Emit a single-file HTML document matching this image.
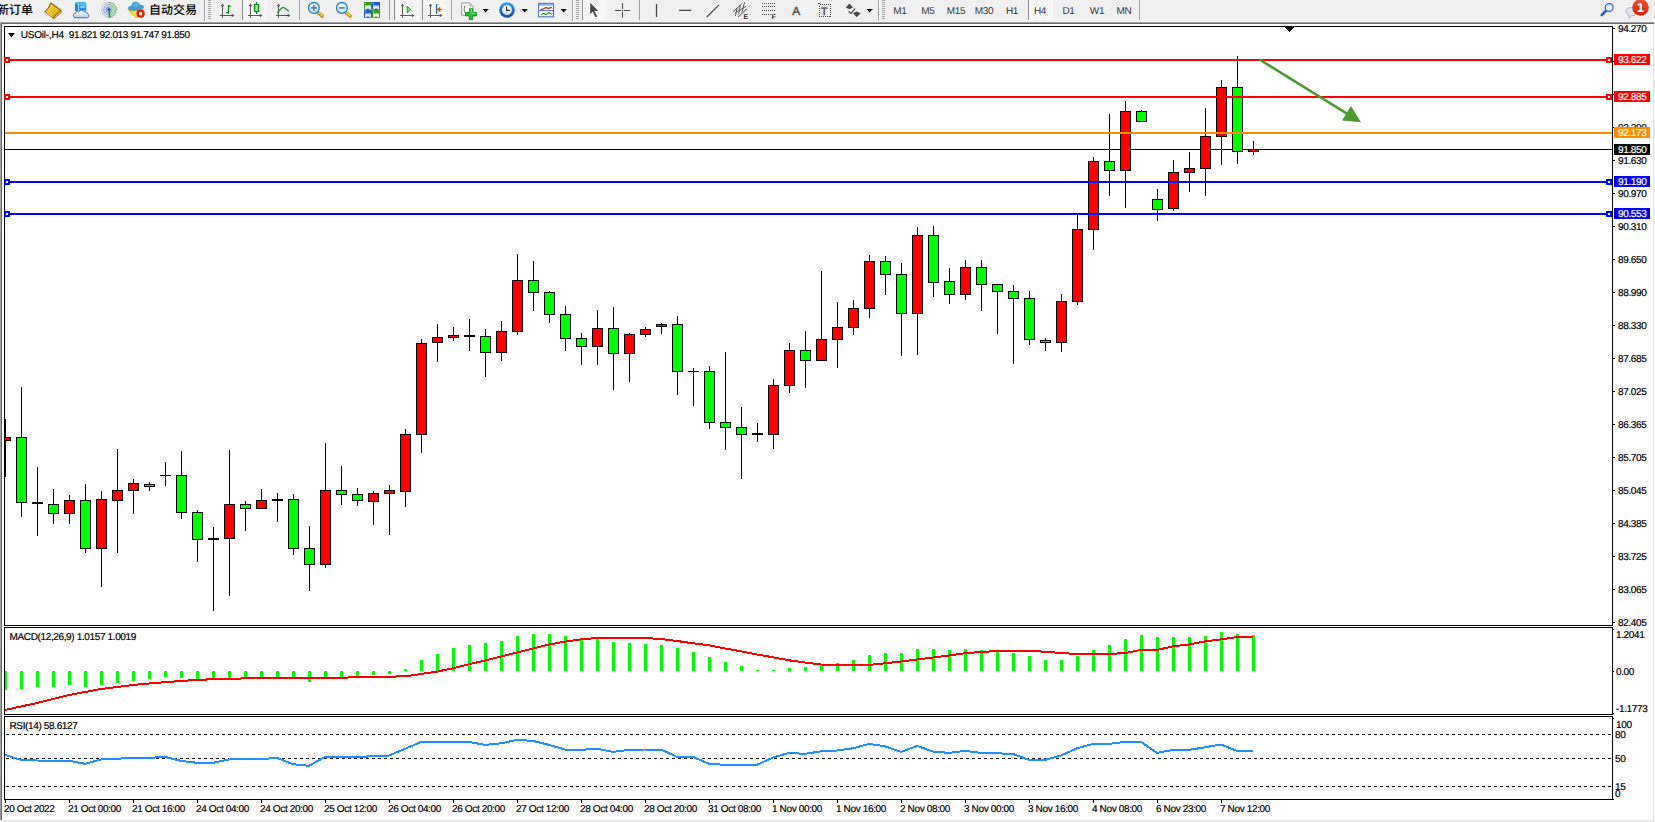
<!DOCTYPE html>
<html><head><meta charset="utf-8"><title>USOil H4</title>
<style>
html,body{margin:0;padding:0}
body{text-rendering:geometricPrecision;width:1655px;height:822px;overflow:hidden;background:#f0f0f0;position:relative;font-family:"Liberation Sans","Noto Sans CJK SC",sans-serif}
#chart{position:absolute;left:0;top:0}
.t{position:absolute;font-size:10px;line-height:12px;white-space:nowrap;color:#000;letter-spacing:-0.36px;-webkit-text-stroke:0.2px #000}
.pb{position:absolute;left:1614px;width:36px;height:11px;font-size:10px;line-height:14px;color:#fff;letter-spacing:-0.36px;-webkit-text-stroke:0.2px #fff;box-sizing:border-box;padding-left:4px;white-space:nowrap}
.fr{position:absolute;background:#a0a0a0}
  .cn{position:absolute;font-size:12px;font-weight:500;line-height:17px;white-space:nowrap;color:#000}
.tf{position:absolute;top:5px;width:28px;text-align:center;font-size:10px;letter-spacing:-0.3px;line-height:13px;color:#333}
</style></head><body>
<div class="fr" style="left:0;top:22px;width:1654px;height:1px"></div>
<div class="fr" style="left:0;top:23px;width:1654px;height:1px;background:#696969"></div>
<div class="fr" style="left:0;top:22px;width:1px;height:798px"></div>
<div class="fr" style="left:1px;top:23px;width:1px;height:797px;background:#696969"></div>
<div class="fr" style="left:1653px;top:24px;width:1px;height:797px;background:#e3e3e3"></div>
<div class="fr" style="left:0px;top:820px;width:1654px;height:1px;background:#e3e3e3"></div>
<svg id="chart" width="1655" height="822" viewBox="0 0 1655 822" shape-rendering="crispEdges">
<defs><clipPath id="cp"><rect x="5" y="27" width="1607" height="598"/></clipPath></defs>
<rect x="2" y="24" width="1651" height="796" fill="#fff"/>
<rect x="5" y="149" width="1607" height="1" fill="#000"/>
<g clip-path="url(#cp)">
<rect x="5" y="419" width="1" height="58" fill="#000"/>
<rect x="0" y="437" width="11" height="4" fill="#000"/>
<rect x="1" y="438" width="9" height="2" fill="#ff0000"/>
<rect x="21" y="387" width="1" height="130" fill="#000"/>
<rect x="16" y="437" width="11" height="66" fill="#000"/>
<rect x="17" y="438" width="9" height="64" fill="#00ff00"/>
<rect x="37" y="467" width="1" height="69" fill="#000"/>
<rect x="32" y="502" width="11" height="2" fill="#000"/>
<rect x="53" y="489" width="1" height="35" fill="#000"/>
<rect x="48" y="504" width="11" height="10" fill="#000"/>
<rect x="49" y="505" width="9" height="8" fill="#00ff00"/>
<rect x="69" y="495" width="1" height="29" fill="#000"/>
<rect x="64" y="500" width="11" height="14" fill="#000"/>
<rect x="65" y="501" width="9" height="12" fill="#ff0000"/>
<rect x="85" y="484" width="1" height="69" fill="#000"/>
<rect x="80" y="500" width="11" height="49" fill="#000"/>
<rect x="81" y="501" width="9" height="47" fill="#00ff00"/>
<rect x="101" y="491" width="1" height="96" fill="#000"/>
<rect x="96" y="499" width="11" height="50" fill="#000"/>
<rect x="97" y="500" width="9" height="48" fill="#ff0000"/>
<rect x="117" y="449" width="1" height="104" fill="#000"/>
<rect x="112" y="490" width="11" height="11" fill="#000"/>
<rect x="113" y="491" width="9" height="9" fill="#ff0000"/>
<rect x="133" y="479" width="1" height="35" fill="#000"/>
<rect x="128" y="483" width="11" height="8" fill="#000"/>
<rect x="129" y="484" width="9" height="6" fill="#ff0000"/>
<rect x="149" y="482" width="1" height="9" fill="#000"/>
<rect x="144" y="484" width="11" height="3" fill="#000"/>
<rect x="145" y="485" width="9" height="1" fill="#00ff00"/>
<rect x="165" y="462" width="1" height="24" fill="#000"/>
<rect x="160" y="475" width="11" height="1" fill="#000"/>
<rect x="181" y="451" width="1" height="68" fill="#000"/>
<rect x="176" y="475" width="11" height="38" fill="#000"/>
<rect x="177" y="476" width="9" height="36" fill="#00ff00"/>
<rect x="197" y="510" width="1" height="52" fill="#000"/>
<rect x="192" y="512" width="11" height="28" fill="#000"/>
<rect x="193" y="513" width="9" height="26" fill="#00ff00"/>
<rect x="213" y="527" width="1" height="84" fill="#000"/>
<rect x="208" y="538" width="11" height="2" fill="#000"/>
<rect x="229" y="450" width="1" height="146" fill="#000"/>
<rect x="224" y="504" width="11" height="35" fill="#000"/>
<rect x="225" y="505" width="9" height="33" fill="#ff0000"/>
<rect x="245" y="501" width="1" height="30" fill="#000"/>
<rect x="240" y="504" width="11" height="5" fill="#000"/>
<rect x="241" y="505" width="9" height="3" fill="#00ff00"/>
<rect x="261" y="489" width="1" height="20" fill="#000"/>
<rect x="256" y="500" width="11" height="9" fill="#000"/>
<rect x="257" y="501" width="9" height="7" fill="#ff0000"/>
<rect x="277" y="493" width="1" height="29" fill="#000"/>
<rect x="272" y="499" width="11" height="2" fill="#000"/>
<rect x="293" y="494" width="1" height="61" fill="#000"/>
<rect x="288" y="499" width="11" height="50" fill="#000"/>
<rect x="289" y="500" width="9" height="48" fill="#00ff00"/>
<rect x="309" y="526" width="1" height="65" fill="#000"/>
<rect x="304" y="548" width="11" height="17" fill="#000"/>
<rect x="305" y="549" width="9" height="15" fill="#00ff00"/>
<rect x="325" y="443" width="1" height="125" fill="#000"/>
<rect x="320" y="490" width="11" height="75" fill="#000"/>
<rect x="321" y="491" width="9" height="73" fill="#ff0000"/>
<rect x="341" y="466" width="1" height="39" fill="#000"/>
<rect x="336" y="490" width="11" height="5" fill="#000"/>
<rect x="337" y="491" width="9" height="3" fill="#00ff00"/>
<rect x="357" y="488" width="1" height="18" fill="#000"/>
<rect x="352" y="494" width="11" height="7" fill="#000"/>
<rect x="353" y="495" width="9" height="5" fill="#00ff00"/>
<rect x="373" y="491" width="1" height="34" fill="#000"/>
<rect x="368" y="493" width="11" height="9" fill="#000"/>
<rect x="369" y="494" width="9" height="7" fill="#ff0000"/>
<rect x="389" y="485" width="1" height="50" fill="#000"/>
<rect x="384" y="490" width="11" height="4" fill="#000"/>
<rect x="385" y="491" width="9" height="2" fill="#ff0000"/>
<rect x="405" y="429" width="1" height="78" fill="#000"/>
<rect x="400" y="434" width="11" height="58" fill="#000"/>
<rect x="401" y="435" width="9" height="56" fill="#ff0000"/>
<rect x="421" y="339" width="1" height="114" fill="#000"/>
<rect x="416" y="343" width="11" height="92" fill="#000"/>
<rect x="417" y="344" width="9" height="90" fill="#ff0000"/>
<rect x="437" y="324" width="1" height="38" fill="#000"/>
<rect x="432" y="337" width="11" height="6" fill="#000"/>
<rect x="433" y="338" width="9" height="4" fill="#ff0000"/>
<rect x="453" y="327" width="1" height="14" fill="#000"/>
<rect x="448" y="335" width="11" height="3" fill="#000"/>
<rect x="449" y="336" width="9" height="1" fill="#ff0000"/>
<rect x="469" y="319" width="1" height="32" fill="#000"/>
<rect x="464" y="335" width="11" height="2" fill="#000"/>
<rect x="485" y="329" width="1" height="48" fill="#000"/>
<rect x="480" y="336" width="11" height="17" fill="#000"/>
<rect x="481" y="337" width="9" height="15" fill="#00ff00"/>
<rect x="501" y="321" width="1" height="40" fill="#000"/>
<rect x="496" y="331" width="11" height="22" fill="#000"/>
<rect x="497" y="332" width="9" height="20" fill="#ff0000"/>
<rect x="517" y="254" width="1" height="81" fill="#000"/>
<rect x="512" y="280" width="11" height="52" fill="#000"/>
<rect x="513" y="281" width="9" height="50" fill="#ff0000"/>
<rect x="533" y="261" width="1" height="50" fill="#000"/>
<rect x="528" y="280" width="11" height="13" fill="#000"/>
<rect x="529" y="281" width="9" height="11" fill="#00ff00"/>
<rect x="549" y="291" width="1" height="32" fill="#000"/>
<rect x="544" y="292" width="11" height="23" fill="#000"/>
<rect x="545" y="293" width="9" height="21" fill="#00ff00"/>
<rect x="565" y="306" width="1" height="45" fill="#000"/>
<rect x="560" y="314" width="11" height="25" fill="#000"/>
<rect x="561" y="315" width="9" height="23" fill="#00ff00"/>
<rect x="581" y="333" width="1" height="32" fill="#000"/>
<rect x="576" y="338" width="11" height="9" fill="#000"/>
<rect x="577" y="339" width="9" height="7" fill="#00ff00"/>
<rect x="597" y="310" width="1" height="55" fill="#000"/>
<rect x="592" y="328" width="11" height="19" fill="#000"/>
<rect x="593" y="329" width="9" height="17" fill="#ff0000"/>
<rect x="613" y="307" width="1" height="83" fill="#000"/>
<rect x="608" y="328" width="11" height="26" fill="#000"/>
<rect x="609" y="329" width="9" height="24" fill="#00ff00"/>
<rect x="629" y="333" width="1" height="49" fill="#000"/>
<rect x="624" y="334" width="11" height="20" fill="#000"/>
<rect x="625" y="335" width="9" height="18" fill="#ff0000"/>
<rect x="645" y="327" width="1" height="10" fill="#000"/>
<rect x="640" y="329" width="11" height="6" fill="#000"/>
<rect x="641" y="330" width="9" height="4" fill="#ff0000"/>
<rect x="661" y="323" width="1" height="11" fill="#000"/>
<rect x="656" y="324" width="11" height="3" fill="#000"/>
<rect x="657" y="325" width="9" height="1" fill="#ff0000"/>
<rect x="677" y="316" width="1" height="79" fill="#000"/>
<rect x="672" y="324" width="11" height="48" fill="#000"/>
<rect x="673" y="325" width="9" height="46" fill="#00ff00"/>
<rect x="693" y="368" width="1" height="38" fill="#000"/>
<rect x="688" y="371" width="11" height="1" fill="#000"/>
<rect x="709" y="366" width="1" height="63" fill="#000"/>
<rect x="704" y="371" width="11" height="52" fill="#000"/>
<rect x="705" y="372" width="9" height="50" fill="#00ff00"/>
<rect x="725" y="352" width="1" height="98" fill="#000"/>
<rect x="720" y="422" width="11" height="6" fill="#000"/>
<rect x="721" y="423" width="9" height="4" fill="#00ff00"/>
<rect x="741" y="407" width="1" height="72" fill="#000"/>
<rect x="736" y="427" width="11" height="8" fill="#000"/>
<rect x="737" y="428" width="9" height="6" fill="#00ff00"/>
<rect x="757" y="423" width="1" height="19" fill="#000"/>
<rect x="752" y="433" width="11" height="2" fill="#000"/>
<rect x="773" y="379" width="1" height="70" fill="#000"/>
<rect x="768" y="385" width="11" height="50" fill="#000"/>
<rect x="769" y="386" width="9" height="48" fill="#ff0000"/>
<rect x="789" y="343" width="1" height="50" fill="#000"/>
<rect x="784" y="350" width="11" height="36" fill="#000"/>
<rect x="785" y="351" width="9" height="34" fill="#ff0000"/>
<rect x="805" y="331" width="1" height="57" fill="#000"/>
<rect x="800" y="350" width="11" height="11" fill="#000"/>
<rect x="801" y="351" width="9" height="9" fill="#00ff00"/>
<rect x="821" y="271" width="1" height="90" fill="#000"/>
<rect x="816" y="339" width="11" height="22" fill="#000"/>
<rect x="817" y="340" width="9" height="20" fill="#ff0000"/>
<rect x="837" y="302" width="1" height="66" fill="#000"/>
<rect x="832" y="327" width="11" height="13" fill="#000"/>
<rect x="833" y="328" width="9" height="11" fill="#ff0000"/>
<rect x="853" y="300" width="1" height="35" fill="#000"/>
<rect x="848" y="308" width="11" height="20" fill="#000"/>
<rect x="849" y="309" width="9" height="18" fill="#ff0000"/>
<rect x="869" y="255" width="1" height="63" fill="#000"/>
<rect x="864" y="261" width="11" height="48" fill="#000"/>
<rect x="865" y="262" width="9" height="46" fill="#ff0000"/>
<rect x="885" y="256" width="1" height="39" fill="#000"/>
<rect x="880" y="261" width="11" height="14" fill="#000"/>
<rect x="881" y="262" width="9" height="12" fill="#00ff00"/>
<rect x="901" y="263" width="1" height="93" fill="#000"/>
<rect x="896" y="274" width="11" height="40" fill="#000"/>
<rect x="897" y="275" width="9" height="38" fill="#00ff00"/>
<rect x="917" y="227" width="1" height="128" fill="#000"/>
<rect x="912" y="235" width="11" height="79" fill="#000"/>
<rect x="913" y="236" width="9" height="77" fill="#ff0000"/>
<rect x="933" y="226" width="1" height="71" fill="#000"/>
<rect x="928" y="235" width="11" height="48" fill="#000"/>
<rect x="929" y="236" width="9" height="46" fill="#00ff00"/>
<rect x="949" y="268" width="1" height="36" fill="#000"/>
<rect x="944" y="281" width="11" height="14" fill="#000"/>
<rect x="945" y="282" width="9" height="12" fill="#00ff00"/>
<rect x="965" y="260" width="1" height="40" fill="#000"/>
<rect x="960" y="267" width="11" height="28" fill="#000"/>
<rect x="961" y="268" width="9" height="26" fill="#ff0000"/>
<rect x="981" y="260" width="1" height="51" fill="#000"/>
<rect x="976" y="267" width="11" height="18" fill="#000"/>
<rect x="977" y="268" width="9" height="16" fill="#00ff00"/>
<rect x="997" y="284" width="1" height="50" fill="#000"/>
<rect x="992" y="284" width="11" height="8" fill="#000"/>
<rect x="993" y="285" width="9" height="6" fill="#00ff00"/>
<rect x="1013" y="285" width="1" height="79" fill="#000"/>
<rect x="1008" y="291" width="11" height="8" fill="#000"/>
<rect x="1009" y="292" width="9" height="6" fill="#00ff00"/>
<rect x="1029" y="291" width="1" height="54" fill="#000"/>
<rect x="1024" y="298" width="11" height="42" fill="#000"/>
<rect x="1025" y="299" width="9" height="40" fill="#00ff00"/>
<rect x="1045" y="338" width="1" height="13" fill="#000"/>
<rect x="1040" y="340" width="11" height="3" fill="#000"/>
<rect x="1041" y="341" width="9" height="1" fill="#00ff00"/>
<rect x="1061" y="294" width="1" height="58" fill="#000"/>
<rect x="1056" y="301" width="11" height="42" fill="#000"/>
<rect x="1057" y="302" width="9" height="40" fill="#ff0000"/>
<rect x="1077" y="214" width="1" height="91" fill="#000"/>
<rect x="1072" y="229" width="11" height="73" fill="#000"/>
<rect x="1073" y="230" width="9" height="71" fill="#ff0000"/>
<rect x="1093" y="157" width="1" height="93" fill="#000"/>
<rect x="1088" y="161" width="11" height="69" fill="#000"/>
<rect x="1089" y="162" width="9" height="67" fill="#ff0000"/>
<rect x="1109" y="114" width="1" height="82" fill="#000"/>
<rect x="1104" y="161" width="11" height="10" fill="#000"/>
<rect x="1105" y="162" width="9" height="8" fill="#00ff00"/>
<rect x="1125" y="101" width="1" height="107" fill="#000"/>
<rect x="1120" y="111" width="11" height="60" fill="#000"/>
<rect x="1121" y="112" width="9" height="58" fill="#ff0000"/>
<rect x="1141" y="110" width="1" height="12" fill="#000"/>
<rect x="1136" y="111" width="11" height="11" fill="#000"/>
<rect x="1137" y="112" width="9" height="9" fill="#00ff00"/>
<rect x="1157" y="189" width="1" height="32" fill="#000"/>
<rect x="1152" y="199" width="11" height="11" fill="#000"/>
<rect x="1153" y="200" width="9" height="9" fill="#00ff00"/>
<rect x="1173" y="160" width="1" height="51" fill="#000"/>
<rect x="1168" y="172" width="11" height="37" fill="#000"/>
<rect x="1169" y="173" width="9" height="35" fill="#ff0000"/>
<rect x="1189" y="152" width="1" height="40" fill="#000"/>
<rect x="1184" y="168" width="11" height="5" fill="#000"/>
<rect x="1185" y="169" width="9" height="3" fill="#ff0000"/>
<rect x="1205" y="108" width="1" height="88" fill="#000"/>
<rect x="1200" y="136" width="11" height="33" fill="#000"/>
<rect x="1201" y="137" width="9" height="31" fill="#ff0000"/>
<rect x="1221" y="80" width="1" height="85" fill="#000"/>
<rect x="1216" y="87" width="11" height="50" fill="#000"/>
<rect x="1217" y="88" width="9" height="48" fill="#ff0000"/>
<rect x="1237" y="56" width="1" height="108" fill="#000"/>
<rect x="1232" y="87" width="11" height="65" fill="#000"/>
<rect x="1233" y="88" width="9" height="63" fill="#00ff00"/>
<rect x="1253" y="141" width="1" height="14" fill="#000"/>
<rect x="1248" y="149" width="11" height="3" fill="#000"/>
<rect x="1249" y="150" width="9" height="1" fill="#ff0000"/>
</g>
<rect x="5" y="59" width="1607" height="2" fill="#ff0000"/>
<rect x="4" y="57" width="6" height="6" fill="#ff0000"/>
<rect x="6" y="59" width="2" height="2" fill="#fff"/>
<rect x="1606" y="57" width="6" height="6" fill="#ff0000"/>
<rect x="1608" y="59" width="2" height="2" fill="#fff"/>
<rect x="5" y="96" width="1607" height="2" fill="#ff0000"/>
<rect x="4" y="94" width="6" height="6" fill="#ff0000"/>
<rect x="6" y="96" width="2" height="2" fill="#fff"/>
<rect x="1606" y="94" width="6" height="6" fill="#ff0000"/>
<rect x="1608" y="96" width="2" height="2" fill="#fff"/>
<rect x="5" y="132" width="1607" height="2" fill="#ff8c00"/>
<rect x="5" y="181" width="1607" height="2" fill="#0000ff"/>
<rect x="4" y="179" width="6" height="6" fill="#0000ff"/>
<rect x="6" y="181" width="2" height="2" fill="#fff"/>
<rect x="1606" y="179" width="6" height="6" fill="#0000ff"/>
<rect x="1608" y="181" width="2" height="2" fill="#fff"/>
<rect x="5" y="213" width="1607" height="2" fill="#0000ff"/>
<rect x="4" y="211" width="6" height="6" fill="#0000ff"/>
<rect x="6" y="213" width="2" height="2" fill="#fff"/>
<rect x="1606" y="211" width="6" height="6" fill="#0000ff"/>
<rect x="1608" y="213" width="2" height="2" fill="#fff"/>
<g shape-rendering="geometricPrecision"><line x1="1259.5" y1="59.5" x2="1347" y2="113.6" stroke="#4e9a2e" stroke-width="2.6"/><polygon points="1361,122.2 1351,106 1342,120.6" fill="#4e9a2e"/></g>
<rect x="5" y="671" width="2" height="19" fill="#00ff00"/>
<rect x="20" y="671" width="3" height="18" fill="#00ff00"/>
<rect x="36" y="671" width="3" height="16" fill="#00ff00"/>
<rect x="52" y="671" width="3" height="16" fill="#00ff00"/>
<rect x="68" y="671" width="3" height="14" fill="#00ff00"/>
<rect x="84" y="671" width="3" height="16" fill="#00ff00"/>
<rect x="100" y="671" width="3" height="14" fill="#00ff00"/>
<rect x="116" y="671" width="3" height="12" fill="#00ff00"/>
<rect x="132" y="671" width="3" height="10" fill="#00ff00"/>
<rect x="148" y="671" width="3" height="8" fill="#00ff00"/>
<rect x="164" y="671" width="3" height="6" fill="#00ff00"/>
<rect x="180" y="671" width="3" height="7" fill="#00ff00"/>
<rect x="196" y="671" width="3" height="9" fill="#00ff00"/>
<rect x="212" y="671" width="3" height="9" fill="#00ff00"/>
<rect x="228" y="671" width="3" height="9" fill="#00ff00"/>
<rect x="244" y="671" width="3" height="7" fill="#00ff00"/>
<rect x="260" y="671" width="3" height="7" fill="#00ff00"/>
<rect x="276" y="671" width="3" height="7" fill="#00ff00"/>
<rect x="292" y="671" width="3" height="7" fill="#00ff00"/>
<rect x="308" y="671" width="3" height="11" fill="#00ff00"/>
<rect x="324" y="671" width="3" height="7" fill="#00ff00"/>
<rect x="340" y="671" width="3" height="7" fill="#00ff00"/>
<rect x="356" y="671" width="3" height="5" fill="#00ff00"/>
<rect x="372" y="671" width="3" height="4" fill="#00ff00"/>
<rect x="388" y="671" width="3" height="3" fill="#00ff00"/>
<rect x="404" y="669" width="3" height="2" fill="#00ff00"/>
<rect x="420" y="660" width="3" height="11" fill="#00ff00"/>
<rect x="436" y="654" width="3" height="17" fill="#00ff00"/>
<rect x="452" y="648" width="3" height="23" fill="#00ff00"/>
<rect x="468" y="645" width="3" height="26" fill="#00ff00"/>
<rect x="484" y="643" width="3" height="28" fill="#00ff00"/>
<rect x="500" y="641" width="3" height="30" fill="#00ff00"/>
<rect x="516" y="636" width="3" height="35" fill="#00ff00"/>
<rect x="532" y="634" width="3" height="37" fill="#00ff00"/>
<rect x="548" y="634" width="3" height="37" fill="#00ff00"/>
<rect x="564" y="636" width="3" height="35" fill="#00ff00"/>
<rect x="580" y="638" width="3" height="33" fill="#00ff00"/>
<rect x="596" y="639" width="3" height="32" fill="#00ff00"/>
<rect x="612" y="642" width="3" height="29" fill="#00ff00"/>
<rect x="628" y="643" width="3" height="28" fill="#00ff00"/>
<rect x="644" y="644" width="3" height="27" fill="#00ff00"/>
<rect x="660" y="645" width="3" height="26" fill="#00ff00"/>
<rect x="676" y="648" width="3" height="23" fill="#00ff00"/>
<rect x="692" y="652" width="3" height="19" fill="#00ff00"/>
<rect x="708" y="657" width="3" height="14" fill="#00ff00"/>
<rect x="724" y="662" width="3" height="9" fill="#00ff00"/>
<rect x="740" y="666" width="3" height="5" fill="#00ff00"/>
<rect x="756" y="670" width="3" height="1" fill="#00ff00"/>
<rect x="772" y="670" width="3" height="1" fill="#00ff00"/>
<rect x="788" y="668" width="3" height="3" fill="#00ff00"/>
<rect x="804" y="667" width="3" height="4" fill="#00ff00"/>
<rect x="820" y="665" width="3" height="6" fill="#00ff00"/>
<rect x="836" y="663" width="3" height="8" fill="#00ff00"/>
<rect x="852" y="660" width="3" height="11" fill="#00ff00"/>
<rect x="868" y="655" width="3" height="16" fill="#00ff00"/>
<rect x="884" y="653" width="3" height="18" fill="#00ff00"/>
<rect x="900" y="653" width="3" height="18" fill="#00ff00"/>
<rect x="916" y="649" width="3" height="22" fill="#00ff00"/>
<rect x="932" y="649" width="3" height="22" fill="#00ff00"/>
<rect x="948" y="650" width="3" height="21" fill="#00ff00"/>
<rect x="964" y="649" width="3" height="22" fill="#00ff00"/>
<rect x="980" y="650" width="3" height="21" fill="#00ff00"/>
<rect x="996" y="652" width="3" height="19" fill="#00ff00"/>
<rect x="1012" y="653" width="3" height="18" fill="#00ff00"/>
<rect x="1028" y="656" width="3" height="15" fill="#00ff00"/>
<rect x="1044" y="660" width="3" height="11" fill="#00ff00"/>
<rect x="1060" y="660" width="3" height="11" fill="#00ff00"/>
<rect x="1076" y="656" width="3" height="15" fill="#00ff00"/>
<rect x="1092" y="650" width="3" height="21" fill="#00ff00"/>
<rect x="1108" y="645" width="3" height="26" fill="#00ff00"/>
<rect x="1124" y="639" width="3" height="32" fill="#00ff00"/>
<rect x="1140" y="635" width="3" height="36" fill="#00ff00"/>
<rect x="1156" y="637" width="3" height="34" fill="#00ff00"/>
<rect x="1172" y="637" width="3" height="34" fill="#00ff00"/>
<rect x="1188" y="637" width="3" height="34" fill="#00ff00"/>
<rect x="1204" y="636" width="3" height="35" fill="#00ff00"/>
<rect x="1220" y="632" width="3" height="39" fill="#00ff00"/>
<rect x="1236" y="634" width="3" height="37" fill="#00ff00"/>
<rect x="1252" y="635" width="3" height="36" fill="#00ff00"/>
<polyline points="5,710 21,706.5 37,703 53,699 69,695 85,692 101,689 117,687 133,685 149,683.5 165,682.2 181,681 197,679.8 213,679.3 229,678.8 245,678.4 261,678 277,677.9 293,677.8 309,677.7 325,677.6 341,677.6 357,677.4 373,676.8 389,676.6 405,676.4 421,674 437,671.7 453,668.3 469,664.3 485,660.5 501,656.5 517,652.5 533,648.5 549,644.5 565,641.7 581,639.4 597,638 613,638 629,638 645,638 661,639 677,641 693,643.3 709,645.3 725,648.5 741,651.3 757,654.5 773,657.3 789,660.3 805,662.5 821,664.5 837,664.9 853,664.9 869,664.9 885,663.3 901,661.5 917,659.5 933,657.5 949,655.5 965,653.2 981,652 997,651 1013,651 1029,651 1045,651.7 1061,653 1077,654 1093,654 1109,654 1125,653 1141,650 1157,650 1173,646.3 1189,644.5 1205,641.4 1221,639.4 1237,637 1253,637" fill="none" stroke="#ff0000" stroke-width="2" shape-rendering="crispEdges"/>
<line x1="6" y1="734.5" x2="1612" y2="734.5" stroke="#000" stroke-width="1" stroke-dasharray="3,3"/>
<line x1="6" y1="758.5" x2="1612" y2="758.5" stroke="#000" stroke-width="1" stroke-dasharray="3,3"/>
<line x1="6" y1="786.5" x2="1612" y2="786.5" stroke="#000" stroke-width="1" stroke-dasharray="3,3"/>
<polyline points="5,754.9 21,759.9 37,760.5 53,760.7 69,760.7 85,763.8 101,759.5 117,758.7 133,757.9 149,757.9 165,756.9 181,760.9 197,762.8 213,762.8 229,759.5 245,759.3 261,759.1 277,757.9 293,764.2 309,765.8 325,756.9 341,756.9 357,756.9 373,756.3 389,755.5 405,748.9 421,741.9 437,741.9 453,741.9 469,741.9 485,744.9 501,743.3 517,739.9 533,740.9 549,744.9 565,749.5 581,749.9 597,748.7 613,751.9 629,749.9 645,749.5 661,749.5 677,756.9 693,756.9 709,763.8 725,764.8 741,764.8 757,764.8 773,757.5 789,752.9 805,753.9 821,751.3 837,750.5 853,748.3 869,743.9 885,746.3 901,751.9 917,745.9 933,751.5 949,752.9 965,750.9 981,752.9 997,753.3 1013,753.9 1029,759.9 1045,759.9 1061,755.5 1077,748.3 1093,743.9 1109,743.9 1125,741.9 1141,741.9 1157,752.9 1173,749.9 1189,749.9 1205,747.3 1221,744.5 1237,750.9 1253,750.9" fill="none" stroke="#1e90ff" stroke-width="2" shape-rendering="crispEdges"/>
<rect x="4" y="26" width="1609" height="1" fill="#000"/>
<rect x="4" y="625" width="1609" height="1" fill="#000"/>
<rect x="4" y="26" width="1" height="600" fill="#000"/>
<rect x="1612" y="26" width="1" height="600" fill="#000"/>
<rect x="4" y="627" width="1609" height="1" fill="#000"/>
<rect x="4" y="714" width="1609" height="1" fill="#000"/>
<rect x="4" y="627" width="1" height="88" fill="#000"/>
<rect x="1612" y="627" width="1" height="88" fill="#000"/>
<rect x="4" y="716" width="1609" height="1" fill="#000"/>
<rect x="4" y="799" width="1609" height="1" fill="#000"/>
<rect x="4" y="716" width="1" height="84" fill="#000"/>
<rect x="1612" y="716" width="1" height="84" fill="#000"/>
<rect x="4" y="57" width="6" height="6" fill="#ff0000"/>
<rect x="6" y="59" width="2" height="2" fill="#fff"/>
<rect x="4" y="94" width="6" height="6" fill="#ff0000"/>
<rect x="6" y="96" width="2" height="2" fill="#fff"/>
<rect x="4" y="179" width="6" height="6" fill="#0000ff"/>
<rect x="6" y="181" width="2" height="2" fill="#fff"/>
<rect x="4" y="211" width="6" height="6" fill="#0000ff"/>
<rect x="6" y="213" width="2" height="2" fill="#fff"/>
<rect x="1613" y="28" width="2" height="1" fill="#000"/>
<rect x="1613" y="61" width="2" height="1" fill="#000"/>
<rect x="1613" y="94" width="2" height="1" fill="#000"/>
<rect x="1613" y="127" width="2" height="1" fill="#000"/>
<rect x="1613" y="160" width="2" height="1" fill="#000"/>
<rect x="1613" y="193" width="2" height="1" fill="#000"/>
<rect x="1613" y="226" width="2" height="1" fill="#000"/>
<rect x="1613" y="259" width="2" height="1" fill="#000"/>
<rect x="1613" y="292" width="2" height="1" fill="#000"/>
<rect x="1613" y="325" width="2" height="1" fill="#000"/>
<rect x="1613" y="358" width="2" height="1" fill="#000"/>
<rect x="1613" y="391" width="2" height="1" fill="#000"/>
<rect x="1613" y="424" width="2" height="1" fill="#000"/>
<rect x="1613" y="457" width="2" height="1" fill="#000"/>
<rect x="1613" y="490" width="2" height="1" fill="#000"/>
<rect x="1613" y="523" width="2" height="1" fill="#000"/>
<rect x="1613" y="556" width="2" height="1" fill="#000"/>
<rect x="1613" y="589" width="2" height="1" fill="#000"/>
<rect x="1613" y="622" width="2" height="1" fill="#000"/>
<rect x="1613" y="629" width="1" height="1" fill="#000"/>
<rect x="1613" y="671" width="1" height="1" fill="#000"/>
<rect x="1613" y="713" width="1" height="1" fill="#000"/>
<rect x="1613" y="718" width="1" height="1" fill="#000"/>
<rect x="1613" y="799" width="1" height="1" fill="#000"/>
<rect x="5" y="800" width="1" height="3" fill="#000"/>
<rect x="69" y="800" width="1" height="3" fill="#000"/>
<rect x="133" y="800" width="1" height="3" fill="#000"/>
<rect x="197" y="800" width="1" height="3" fill="#000"/>
<rect x="261" y="800" width="1" height="3" fill="#000"/>
<rect x="325" y="800" width="1" height="3" fill="#000"/>
<rect x="389" y="800" width="1" height="3" fill="#000"/>
<rect x="453" y="800" width="1" height="3" fill="#000"/>
<rect x="517" y="800" width="1" height="3" fill="#000"/>
<rect x="581" y="800" width="1" height="3" fill="#000"/>
<rect x="645" y="800" width="1" height="3" fill="#000"/>
<rect x="709" y="800" width="1" height="3" fill="#000"/>
<rect x="773" y="800" width="1" height="3" fill="#000"/>
<rect x="837" y="800" width="1" height="3" fill="#000"/>
<rect x="901" y="800" width="1" height="3" fill="#000"/>
<rect x="965" y="800" width="1" height="3" fill="#000"/>
<rect x="1029" y="800" width="1" height="3" fill="#000"/>
<rect x="1093" y="800" width="1" height="3" fill="#000"/>
<rect x="1157" y="800" width="1" height="3" fill="#000"/>
<rect x="1221" y="800" width="1" height="3" fill="#000"/>
<rect x="1284" y="26" width="11" height="1" fill="#000"/>
<rect x="1285" y="27" width="9" height="1" fill="#000"/>
<rect x="1286" y="28" width="7" height="1" fill="#000"/>
<rect x="1287" y="29" width="5" height="1" fill="#000"/>
<rect x="1288" y="30" width="3" height="1" fill="#000"/>
<rect x="1289" y="31" width="1" height="1" fill="#000"/>
<polygon points="8,33 15,33 11.5,37.5" fill="#000" shape-rendering="geometricPrecision"/>
</svg>
<div class="t " style="left:1618px;top:24px;">94.270</div><div class="t " style="left:1618px;top:123px;">92.290</div><div class="t " style="left:1618px;top:156px;">91.630</div><div class="t " style="left:1618px;top:189px;">90.970</div><div class="t " style="left:1618px;top:222px;">90.310</div><div class="t " style="left:1618px;top:255px;">89.650</div><div class="t " style="left:1618px;top:288px;">88.990</div><div class="t " style="left:1618px;top:321px;">88.330</div><div class="t " style="left:1618px;top:354px;">87.685</div><div class="t " style="left:1618px;top:387px;">87.025</div><div class="t " style="left:1618px;top:420px;">86.365</div><div class="t " style="left:1618px;top:453px;">85.705</div><div class="t " style="left:1618px;top:486px;">85.045</div><div class="t " style="left:1618px;top:519px;">84.385</div><div class="t " style="left:1618px;top:552px;">83.725</div><div class="t " style="left:1618px;top:585px;">83.065</div><div class="t " style="left:1618px;top:618px;">82.405</div><div class="pb" style="top:54px;background:#ff0000"><span>93.622</span></div><div class="pb" style="top:91px;background:#ff0000"><span>92.885</span></div><div class="pb" style="top:127px;background:#ff8c00"><span>92.173</span></div><div class="pb" style="top:144px;background:#000"><span>91.850</span></div><div class="pb" style="top:176px;background:#0000ff"><span>91.190</span></div><div class="pb" style="top:208px;background:#0000ff"><span>90.553</span></div><div class="t " style="left:1616px;top:630px;">1.2041</div><div class="t " style="left:1616px;top:667px;">0.00</div><div class="t " style="left:1616px;top:704px;">-1.1773</div><div class="t " style="left:1616px;top:720px;">100</div><div class="t " style="left:1615px;top:730px;">80</div><div class="t " style="left:1615px;top:754px;">50</div><div class="t " style="left:1615px;top:782px;">15</div><div class="t " style="left:1615px;top:789px;">0</div><div class="t ttl" style="left:20.7px;top:30px;"><span style="letter-spacing:-0.2px">USOil-,H4</span>&nbsp; 91.821 92.013 91.747 91.850</div><div class="t ttl" style="left:9.5px;top:632px;">MACD(12,26,9) 1.0157 1.0019</div><div class="t ttl" style="left:9.5px;top:721px;">RSI(14) 58.6127</div><div class="t dt" style="left:4px;top:804px;">20 Oct 2022</div><div class="t dt" style="left:68px;top:804px;">21 Oct 00:00</div><div class="t dt" style="left:132px;top:804px;">21 Oct 16:00</div><div class="t dt" style="left:196px;top:804px;">24 Oct 04:00</div><div class="t dt" style="left:260px;top:804px;">24 Oct 20:00</div><div class="t dt" style="left:324px;top:804px;">25 Oct 12:00</div><div class="t dt" style="left:388px;top:804px;">26 Oct 04:00</div><div class="t dt" style="left:452px;top:804px;">26 Oct 20:00</div><div class="t dt" style="left:516px;top:804px;">27 Oct 12:00</div><div class="t dt" style="left:580px;top:804px;">28 Oct 04:00</div><div class="t dt" style="left:644px;top:804px;">28 Oct 20:00</div><div class="t dt" style="left:708px;top:804px;">31 Oct 08:00</div><div class="t dt" style="left:772px;top:804px;">1 Nov 00:00</div><div class="t dt" style="left:836px;top:804px;">1 Nov 16:00</div><div class="t dt" style="left:900px;top:804px;">2 Nov 08:00</div><div class="t dt" style="left:964px;top:804px;">3 Nov 00:00</div><div class="t dt" style="left:1028px;top:804px;">3 Nov 16:00</div><div class="t dt" style="left:1092px;top:804px;">4 Nov 08:00</div><div class="t dt" style="left:1156px;top:804px;">6 Nov 23:00</div><div class="t dt" style="left:1220px;top:804px;">7 Nov 12:00</div>
<svg id="tb" width="1655" height="22" viewBox="0 0 1655 22" style="position:absolute;left:0;top:0" shape-rendering="geometricPrecision">
<defs>
<pattern id="chk" width="2" height="2" patternUnits="userSpaceOnUse"><rect width="2" height="2" fill="#f0f0f0"/><rect width="1" height="1" fill="#fff"/><rect x="1" y="1" width="1" height="1" fill="#fff"/></pattern>
<linearGradient id="gy" x1="0" y1="0" x2="1" y2="1"><stop offset="0" stop-color="#ffe14a"/><stop offset="1" stop-color="#d79a00"/></linearGradient>
<linearGradient id="gb" x1="0" y1="0" x2="0" y2="1"><stop offset="0" stop-color="#3cb8ff"/><stop offset="1" stop-color="#1088f4"/></linearGradient>
<linearGradient id="gc" x1="0" y1="0" x2="0" y2="1"><stop offset="0" stop-color="#ffffff"/><stop offset="1" stop-color="#b8c6e0"/></linearGradient>
<linearGradient id="gr" x1="0" y1="0" x2="0" y2="1"><stop offset="0" stop-color="#e8573c"/><stop offset="1" stop-color="#dc1e00"/></linearGradient>
<linearGradient id="gg" x1="0" y1="0" x2="1" y2="0"><stop offset="0" stop-color="#20c030"/><stop offset="0.5" stop-color="#a0ffa0"/><stop offset="1" stop-color="#20c030"/></linearGradient>
<radialGradient id="gl" cx="0.4" cy="0.35" r="0.7"><stop offset="0" stop-color="#ffffff"/><stop offset="1" stop-color="#bfe3fb"/></radialGradient>
<linearGradient id="gk" x1="0" y1="0" x2="0" y2="1"><stop offset="0" stop-color="#3a9cf0"/><stop offset="1" stop-color="#0a4aa8"/></linearGradient>
<g id="ax"><path d="M0.5 4.5V18M-2 15.5H11.4" stroke="#5a5a5a" stroke-width="1" fill="none"/><path d="M-1.3 6.2L0.5 3.4L2.3 6.2Z M9.8 13.7L12.6 15.5L9.8 17.3Z" fill="#5a5a5a"/></g>
<path id="dd" d="M0.4 0H6.6L3.5 3.6Z" fill="#000"/>
</defs>
<g><path d="M52.8 17.7L60.9 10.3L61.5 12.3L53.7 19Z" fill="#ead9a0" stroke="#9a6408" stroke-width="0.8" stroke-linejoin="round"/><path d="M50.9 3L60.9 10.3L52.8 17.7L45.2 11.7Q48.8 8.6 50.9 3Z" fill="url(#gy)" stroke="#9a6408" stroke-width="1.1" stroke-linejoin="round"/><path d="M46.6 12.4L52.8 16.9" stroke="#fff3a8" stroke-width="1" opacity="0.9"/><path d="M53.6 18.6L61.2 11.6" stroke="#9a6408" stroke-width="0.5" opacity="0.7"/></g>
<g><path d="M75.1 2.6L78.4 2H85.8L86.3 4V10.8H75.1Z" fill="url(#gb)"/><path d="M75.1 2.6L78.4 4.2V10.8H75.1Z" fill="#0a86f4"/><path d="M78.4 4.2V10.8" stroke="#d8f0ff" stroke-width="0.9"/><path d="M75.1 2.6L78.4 4.2H86.3" stroke="#9adcff" stroke-width="0.7" fill="none"/><path d="M80.4 6.9H84.8" stroke="#e8f6ff" stroke-width="1.1"/><path d="M76 17.8C72.8 17.8 72.6 13.6 75.4 13.2C75.4 11.6 77.4 11 78.4 12C79.6 9.8 83.6 9.8 84.6 12.2C86 11.4 87.6 12.4 87.4 13.8C89.8 14.2 89.6 17.8 86.6 17.8Z" fill="url(#gc)" stroke="#4a68a6" stroke-width="1"/></g>
<clipPath id="cl"><rect x="100" y="0" width="9" height="22"/></clipPath><clipPath id="cr"><rect x="109" y="0" width="10" height="22"/></clipPath>
<g fill="none"><g clip-path="url(#cl)"><circle cx="109" cy="9.8" r="7.4" stroke="#4a7ad8" stroke-width="0.9" opacity="0.5"/><circle cx="109" cy="9.8" r="5.2" stroke="#3a6ad0" stroke-width="1" opacity="0.7"/><circle cx="109" cy="9.8" r="3" stroke="#2a5ac8" stroke-width="1" opacity="0.85"/></g><g clip-path="url(#cr)"><circle cx="109" cy="9.8" r="7.6" fill="#6ab06a" opacity="0.28" stroke="none"/><circle cx="109" cy="9.8" r="7.4" stroke="#4a984a" stroke-width="1" opacity="0.6"/><circle cx="109" cy="9.8" r="5.2" stroke="#5aa85a" stroke-width="1" opacity="0.6"/><circle cx="109" cy="9.8" r="3" stroke="#6ab86a" stroke-width="1" opacity="0.7"/></g><circle cx="109" cy="9.6" r="1.7" fill="#1a50c8" stroke="none"/><path d="M109.5 10.4V17.8" stroke="#1a9a1a" stroke-width="1.5"/></g>
<g><path d="M128.6 10L143.6 9.6L137 17.6Q135.6 18 134.6 16.6Z" fill="#f6d84a" stroke="#d0a010" stroke-width="0.7"/><ellipse cx="135.9" cy="7.6" rx="7.8" ry="2.6" fill="#4aa0d8" stroke="#2a80b8" stroke-width="0.6" transform="rotate(-6 135.9 7.6)"/><ellipse cx="135.6" cy="5" rx="3.8" ry="3" fill="#58b0e4" stroke="#2a80b8" stroke-width="0.5"/><circle cx="140.6" cy="13.7" r="4.1" fill="#dc2000"/><rect x="139.1" y="12.2" width="3" height="3" fill="#fff"/></g>
<rect x="204" y="0" width="1" height="21" fill="#a0a0a0" shape-rendering="crispEdges"/>
<rect x="205" y="0" width="1" height="21" fill="#fff" shape-rendering="crispEdges"/>
<rect x="208" y="0" width="3" height="1" fill="#a6a6a6" shape-rendering="crispEdges"/>
<rect x="208" y="2" width="3" height="1" fill="#a6a6a6" shape-rendering="crispEdges"/>
<rect x="208" y="4" width="3" height="1" fill="#a6a6a6" shape-rendering="crispEdges"/>
<rect x="208" y="6" width="3" height="1" fill="#a6a6a6" shape-rendering="crispEdges"/>
<rect x="208" y="8" width="3" height="1" fill="#a6a6a6" shape-rendering="crispEdges"/>
<rect x="208" y="10" width="3" height="1" fill="#a6a6a6" shape-rendering="crispEdges"/>
<rect x="208" y="12" width="3" height="1" fill="#a6a6a6" shape-rendering="crispEdges"/>
<rect x="208" y="14" width="3" height="1" fill="#a6a6a6" shape-rendering="crispEdges"/>
<rect x="208" y="16" width="3" height="1" fill="#a6a6a6" shape-rendering="crispEdges"/>
<rect x="208" y="18" width="3" height="1" fill="#a6a6a6" shape-rendering="crispEdges"/>
<use href="#ax" x="222" y="0"/>
<path d="M228.5 5V13.8M228.5 6.2H231M226 12.6H228.5" stroke="#0a8a0a" stroke-width="1.3" fill="none"/>
<rect x="243" y="0" width="24" height="20" fill="url(#chk)" shape-rendering="crispEdges"/>
<rect x="242" y="0" width="1" height="20" fill="#8a8a8a" shape-rendering="crispEdges"/>
<use href="#ax" x="250" y="0"/>
<path d="M256.5 2V14" stroke="#0a8a0a" stroke-width="1.2"/><rect x="254.4" y="4.4" width="4.4" height="7.2" fill="url(#gg)" stroke="#0a8a0a" stroke-width="1"/>
<use href="#ax" x="278" y="0"/>
<path d="M277 12.8C280 11 281 7.4 283.2 7.4C285.4 7.4 286.4 10.6 289 11.2" stroke="#1a8a1a" stroke-width="1.3" fill="none"/>
<rect x="299" y="0" width="1" height="20" fill="#a0a0a0" shape-rendering="crispEdges"/>
<path d="M317.7 12.2L323.29999999999995 17" stroke="#b08408" stroke-width="3.2"/><path d="M317.9 12L322.9 16.4" stroke="#f0d040" stroke-width="1.6"/>
<circle cx="313.9" cy="7.9" r="5.4" fill="url(#gl)" stroke="#2a7cc8" stroke-width="1.3"/>
<path d="M310.9 7.9H316.9M313.9 4.9V10.9" stroke="#3a88b8" stroke-width="1.7" fill="none"/>
<path d="M345.7 12.2L351.29999999999995 17" stroke="#b08408" stroke-width="3.2"/><path d="M345.9 12L350.9 16.4" stroke="#f0d040" stroke-width="1.6"/>
<circle cx="341.9" cy="7.9" r="5.4" fill="url(#gl)" stroke="#2a7cc8" stroke-width="1.3"/>
<path d="M338.9 7.9H344.9" stroke="#3a88b8" stroke-width="1.7" fill="none"/>
<rect x="364" y="2" width="8" height="8" rx="0.8" fill="#3a9a1a"/><path d="M365.2 9.4V5.6H370.8V9.4H369.4V8.4H366.6V9.4Z" fill="#fff"/><rect x="366.4" y="6.5" width="3.2" height="0.8" fill="#3a9a1a" opacity="0.5"/><rect x="365" y="3.2" width="1" height="1" fill="#fff" opacity="0.8"/>
<rect x="372" y="2" width="8" height="8" rx="0.8" fill="#2456cc"/><path d="M373.2 9.4V5.6H378.8V9.4H377.4V8.4H374.6V9.4Z" fill="#fff"/><rect x="374.4" y="6.5" width="3.2" height="0.8" fill="#2456cc" opacity="0.5"/><rect x="373" y="3.2" width="1" height="1" fill="#fff" opacity="0.8"/>
<rect x="364" y="10" width="8" height="8" rx="0.8" fill="#2456cc"/><path d="M365.2 17.4V13.6H370.8V17.4H369.4V16.4H366.6V17.4Z" fill="#fff"/><rect x="366.4" y="14.5" width="3.2" height="0.8" fill="#2456cc" opacity="0.5"/><rect x="365" y="11.2" width="1" height="1" fill="#fff" opacity="0.8"/>
<rect x="372" y="10" width="8" height="8" rx="0.8" fill="#3a9a1a"/><path d="M373.2 17.4V13.6H378.8V17.4H377.4V16.4H374.6V17.4Z" fill="#fff"/><rect x="374.4" y="14.5" width="3.2" height="0.8" fill="#3a9a1a" opacity="0.5"/><rect x="373" y="11.2" width="1" height="1" fill="#fff" opacity="0.8"/>
<rect x="389" y="0" width="1" height="20" fill="#a0a0a0" shape-rendering="crispEdges"/>
<rect x="394" y="0" width="1" height="20" fill="#a0a0a0" shape-rendering="crispEdges"/>
<rect x="395" y="0" width="24" height="20" fill="url(#chk)" shape-rendering="crispEdges"/>
<rect x="394" y="0" width="1" height="20" fill="#8a8a8a" shape-rendering="crispEdges"/>
<use href="#ax" x="402" y="0"/>
<path d="M407.2 6.2V13L410.8 9.6Z" fill="#70e070" stroke="#0a9a0a" stroke-width="0.9"/>
<rect x="422" y="0" width="1" height="20" fill="#a0a0a0" shape-rendering="crispEdges"/>
<rect x="423" y="0" width="24" height="20" fill="url(#chk)" shape-rendering="crispEdges"/>
<rect x="422" y="0" width="1" height="20" fill="#8a8a8a" shape-rendering="crispEdges"/>
<use href="#ax" x="430" y="0"/>
<path d="M436.6 4V14" stroke="#1a6aa0" stroke-width="1.3"/><path d="M437.4 9.5H442M437.2 9.5L440 7.6V11.4Z" stroke="#e05000" stroke-width="0.9" fill="#e05000"/>
<rect x="451" y="0" width="1" height="20" fill="#a0a0a0" shape-rendering="crispEdges"/>
<path d="M461.7 3H470L473 6V15.2H461.7Z" fill="#fff" stroke="#8a8a8a" stroke-width="0.9"/><path d="M470 3V6H473" fill="#e8e8e8" stroke="#8a8a8a" stroke-width="0.7"/><path d="M465.4 5.4C464.4 5.4 464.6 8.6 464 9.2C464.6 9.8 464.4 13 465.4 13" stroke="#5a5030" stroke-width="0.8" fill="none"/>
<path d="M469.3 8.8H472.7V12.5H476.4V15.9H472.7V19.6H469.3V15.9H465.6V12.5H469.3Z" fill="#22c832" stroke="#0a7a12" stroke-width="0.8"/><path d="M470.2 9.8H471.8V13.4H475.4" stroke="#a8ffa8" stroke-width="0.8" fill="none" opacity="0.8"/>
<use href="#dd" x="482.2" y="9"/>
<circle cx="507" cy="10" r="7.8" fill="url(#gk)"/><circle cx="507" cy="10" r="4.9" fill="#fff"/><path d="M506.6 6.4V10.4H509.8" stroke="#222" stroke-width="1.1" fill="none"/><circle cx="507" cy="10" r="4.1" fill="none" stroke="#666" stroke-width="0.9" stroke-dasharray="0.6 1.547"/><path d="M505.8 12.6H508.2" stroke="#6ab0ff" stroke-width="0.8"/>
<use href="#dd" x="521.2" y="9"/>
<rect x="538.6" y="3.4" width="15" height="13.4" fill="#fff" stroke="#3a6ac0" stroke-width="1"/><rect x="539" y="3.8" width="14.2" height="2" fill="#8ab8f0"/><path d="M539 10.6H553.4" stroke="#3a6ac0" stroke-width="0.9"/><path d="M540.6 9.4L543 9.2L545.4 7.6L548.4 8.4L551.8 7.4" stroke="#b02000" stroke-width="1.1" fill="none"/><path d="M541.2 14.4L543.6 13.4L546.2 14.6L549 12.4L551.6 14.4" stroke="#109020" stroke-width="1.1" fill="none"/>
<use href="#dd" x="560.2" y="9"/>
<rect x="572" y="0" width="1" height="21" fill="#a0a0a0" shape-rendering="crispEdges"/>
<rect x="573" y="0" width="1" height="21" fill="#fff" shape-rendering="crispEdges"/>
<rect x="576" y="0" width="3" height="1" fill="#a6a6a6" shape-rendering="crispEdges"/>
<rect x="576" y="2" width="3" height="1" fill="#a6a6a6" shape-rendering="crispEdges"/>
<rect x="576" y="4" width="3" height="1" fill="#a6a6a6" shape-rendering="crispEdges"/>
<rect x="576" y="6" width="3" height="1" fill="#a6a6a6" shape-rendering="crispEdges"/>
<rect x="576" y="8" width="3" height="1" fill="#a6a6a6" shape-rendering="crispEdges"/>
<rect x="576" y="10" width="3" height="1" fill="#a6a6a6" shape-rendering="crispEdges"/>
<rect x="576" y="12" width="3" height="1" fill="#a6a6a6" shape-rendering="crispEdges"/>
<rect x="576" y="14" width="3" height="1" fill="#a6a6a6" shape-rendering="crispEdges"/>
<rect x="576" y="16" width="3" height="1" fill="#a6a6a6" shape-rendering="crispEdges"/>
<rect x="576" y="18" width="3" height="1" fill="#a6a6a6" shape-rendering="crispEdges"/>
<rect x="583" y="0" width="24" height="20" fill="url(#chk)" shape-rendering="crispEdges"/>
<rect x="582" y="0" width="1" height="20" fill="#8a8a8a" shape-rendering="crispEdges"/>
<path d="M590.2 2.8V14.2L592.8 11.6L595.4 17.3L597.1 16.5L594.5 11H598.2Z" fill="#484848"/>
<path d="M622.5 3V9.2M622.5 11.8V17.8M615 10.5H621.2M623.8 10.5H630" stroke="#505050" stroke-width="1.1" fill="none"/><rect x="622" y="10" width="1" height="1" fill="#484848"/>
<rect x="639" y="0" width="1" height="20" fill="#a0a0a0" shape-rendering="crispEdges"/>
<path d="M656.5 4V17" stroke="#484848" stroke-width="1.3"/>
<path d="M679 10.4H691.2" stroke="#484848" stroke-width="1.3"/>
<path d="M706.8 17L719 4.8" stroke="#484848" stroke-width="1.2"/>
<g stroke="#484848" fill="none"><path d="M733 11.8L741.6 4" stroke-width="1"/><path d="M738 17L747 8.8" stroke-width="1"/><path d="M735.4 16L737 8.4M738.6 14.4L740.4 5.6M742 12.2L744.6 2.2M735 12.8L746 6.4" stroke-width="0.9"/></g>
<text x="743.6" y="18.9" font-family="Liberation Sans,sans-serif" font-weight="bold" font-size="7" fill="#333">E</text>
<path d="M762 3.5H775.5" stroke="#484848" stroke-width="1" stroke-dasharray="1 1" shape-rendering="crispEdges"/>
<path d="M762 6.5H775.5" stroke="#484848" stroke-width="1" stroke-dasharray="1 1" shape-rendering="crispEdges"/>
<path d="M762 10.5H775.5" stroke="#484848" stroke-width="1" stroke-dasharray="1 1" shape-rendering="crispEdges"/>
<path d="M762 14.5H771.5" stroke="#484848" stroke-width="1" stroke-dasharray="1 1" shape-rendering="crispEdges"/>
<text x="771.6" y="18.9" font-family="Liberation Sans,sans-serif" font-weight="bold" font-size="7" fill="#333">F</text>
<text x="792.2" y="14.9" font-family="Liberation Sans,sans-serif" font-size="11.8" fill="#555" stroke="#555" stroke-width="0.5">A</text>
<rect x="819.5" y="4.5" width="11" height="12" fill="none" stroke="#484848" stroke-width="1" stroke-dasharray="1 1" shape-rendering="crispEdges"/><rect x="818" y="3" width="2" height="1" fill="#484848"/>
<text x="821.1" y="14.6" font-family="Liberation Sans,sans-serif" font-size="10.6" fill="#555" stroke="#555" stroke-width="0.5">T</text>
<path d="M845.8 7.6L849.4 3.6L853 7.6L849.4 9.2Z" fill="#484848"/><path d="M853 13.2L856.8 17.2L860.6 13.2L856.8 11.6Z" fill="#484848"/><path d="M848.6 11.4L851 13.4L855 8.6" stroke="#484848" stroke-width="1.3" fill="none"/>
<use href="#dd" x="866.2" y="9"/>
<rect x="878" y="0" width="1" height="21" fill="#a0a0a0" shape-rendering="crispEdges"/>
<rect x="879" y="0" width="1" height="21" fill="#fff" shape-rendering="crispEdges"/>
<rect x="882" y="0" width="3" height="1" fill="#a6a6a6" shape-rendering="crispEdges"/>
<rect x="882" y="2" width="3" height="1" fill="#a6a6a6" shape-rendering="crispEdges"/>
<rect x="882" y="4" width="3" height="1" fill="#a6a6a6" shape-rendering="crispEdges"/>
<rect x="882" y="6" width="3" height="1" fill="#a6a6a6" shape-rendering="crispEdges"/>
<rect x="882" y="8" width="3" height="1" fill="#a6a6a6" shape-rendering="crispEdges"/>
<rect x="882" y="10" width="3" height="1" fill="#a6a6a6" shape-rendering="crispEdges"/>
<rect x="882" y="12" width="3" height="1" fill="#a6a6a6" shape-rendering="crispEdges"/>
<rect x="882" y="14" width="3" height="1" fill="#a6a6a6" shape-rendering="crispEdges"/>
<rect x="882" y="16" width="3" height="1" fill="#a6a6a6" shape-rendering="crispEdges"/>
<rect x="882" y="18" width="3" height="1" fill="#a6a6a6" shape-rendering="crispEdges"/>
<rect x="1029" y="0" width="24" height="20" fill="url(#chk)" shape-rendering="crispEdges"/>
<rect x="1028" y="0" width="1" height="20" fill="#8a8a8a" shape-rendering="crispEdges"/>
<rect x="1139" y="0" width="1" height="20" fill="#a0a0a0" shape-rendering="crispEdges"/>
<path d="M1606.4 10.4L1601.8 15" stroke="#2458c8" stroke-width="2.6" stroke-linecap="round"/><circle cx="1609.2" cy="7.5" r="3.9" fill="#f4f4ff" stroke="#2a60d0" stroke-width="1.2"/>
<path d="M1631.6 7.4C1635.6 7.4 1637.4 9.6 1637.4 11.6C1637.4 14 1634.6 15.8 1631.4 15.8L1629.2 18.4L1629 15.4C1627 14.8 1626 13.2 1626 11.6C1626 9.4 1628 7.4 1631.6 7.4Z" fill="#e4e4ec" stroke="#a8a8a8" stroke-width="0.8"/>
<circle cx="1640.5" cy="7.5" r="8.3" fill="url(#gr)"/>
<text x="1640.4" y="11.8" text-anchor="middle" font-family="DejaVu Sans,sans-serif" font-weight="bold" font-size="11.5" fill="#fff">1</text>
</svg>
<div class="cn" style="left:-3px;top:2px">新订单</div>
<div class="cn" style="left:149px;top:2px">自动交易</div>
<div class="tf" style="left:886px">M1</div>
<div class="tf" style="left:914px">M5</div>
<div class="tf" style="left:942px">M15</div>
<div class="tf" style="left:970px">M30</div>
<div class="tf" style="left:998px">H1</div>
<div class="tf" style="left:1026px">H4</div>
<div class="tf" style="left:1054.5px">D1</div>
<div class="tf" style="left:1083px">W1</div>
<div class="tf" style="left:1110px">MN</div>
</body></html>
